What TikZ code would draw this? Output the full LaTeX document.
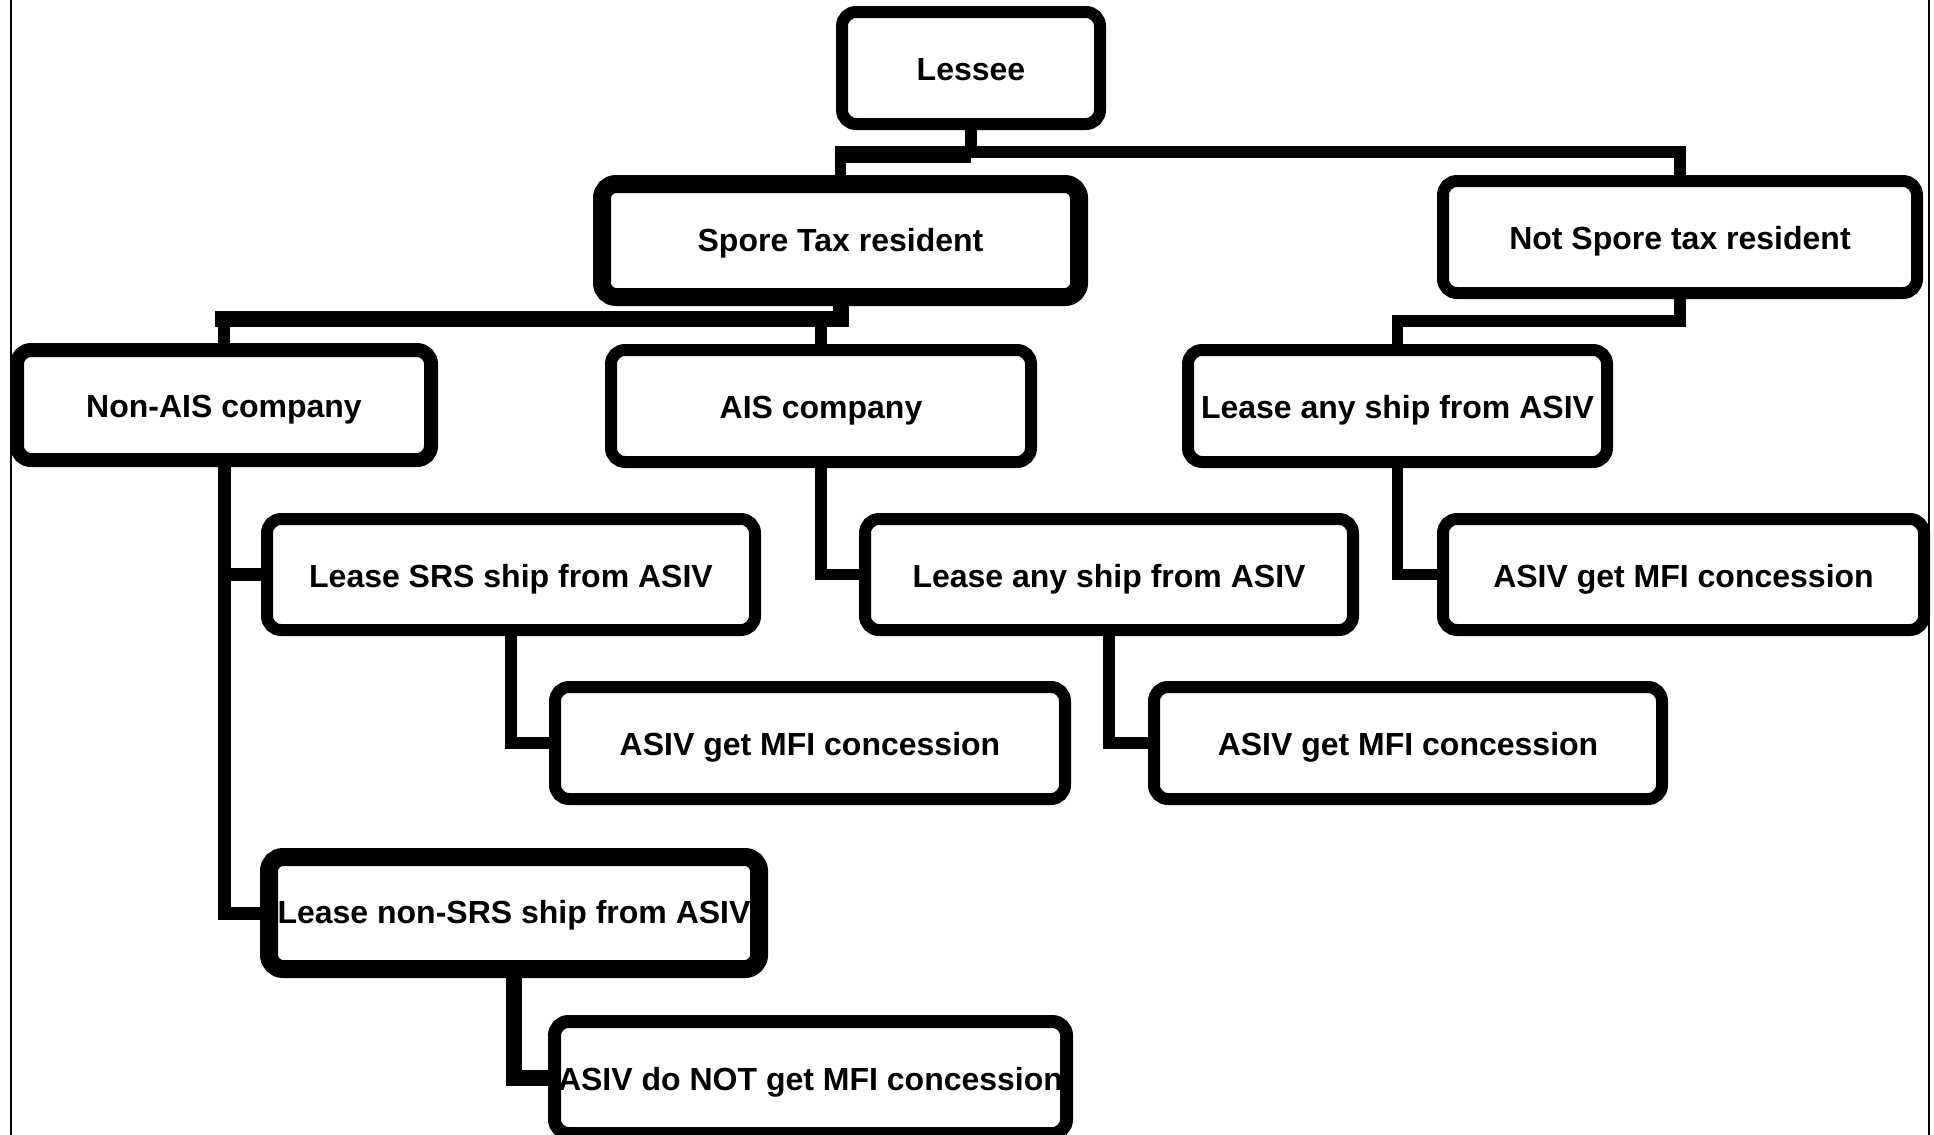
\documentclass[tikz,border=0pt]{standalone}
\usepackage{fontspec}
\setmainfont{Liberation Sans}
\begin{document}
\begin{tikzpicture}[x=0.5pt,y=-0.5pt,
  box/.style={draw=black, fill=white, rounded corners=7pt, line width=6pt,
    inner sep=0pt, text height=12.5pt, text depth=0pt,
    font=\fontsize{16}{19}\selectfont\bfseries},
  heavybox/.style={box, line width=9pt, text height=10.5pt},
  boxsize/.style 2 args={minimum width=#1pt, minimum height=#2pt},
  conn/.style={line width=5.75pt},
  heavyconn/.style={line width=8pt},
  frameline/.style={line width=1.25pt}]
\useasboundingbox (0,0) rectangle (1934,1135);
\clip (0,0) rectangle (1934,1135);

% page frame (left and right rules)
\draw[frameline] (11,0) -- (11,1135);
\draw[frameline] (1929,0) -- (1929,1135);

% boxes
\node[box, boxsize={129}{56}] (lessee) at (971,68) {Lessee};
\node[heavybox, boxsize={238.5}{56.5}] (spore) at (840.5,240.5) {Spore Tax resident};
\node[box, boxsize={237}{56}] (notspore) at (1680,237) {Not Spore tax resident};
\node[box, line width=7pt, boxsize={207}{55}] (nonais) at (224,405) {Non-AIS company};
\node[box, boxsize={210}{56}] (ais) at (821,406) {AIS company};
\node[box, boxsize={209.5}{56}] (leaser) at (1397.5,406) {Lease any ship from ASIV};
\node[box, boxsize={244}{55.5}] (leasesrs) at (511,574.5) {Lease SRS ship from ASIV};
\node[box, boxsize={244}{55.5}] (leasem) at (1109,574.5) {Lease any ship from ASIV};
\node[box, boxsize={240.5}{55.5}] (mfir) at (1683.5,574.5) {ASIV get MFI concession};
\node[box, boxsize={255}{56}] (mfil) at (810,743) {ASIV get MFI concession};
\node[box, boxsize={254}{56}] (mfim) at (1408,743) {ASIV get MFI concession};
\node[heavybox, boxsize={245}{56}] (leasenon) at (514,913) {Lease non-SRS ship from ASIV};
\node[box, line width=6.5pt, boxsize={256}{56}] (nomfi) at (810.5,1077.5) {ASIV do NOT get MFI concession};

% Lessee -> residency
\coordinate (bus1) at (971,152);
\coordinate (bus1b) at (971,157);
\draw[conn] (lessee.south) -- (bus1) -| (spore.north);
\draw[conn] (bus1b) -| (spore.north);
\draw[conn] (bus1) -| (notspore.north);

% Spore Tax resident -> company type
\coordinate (bus2) at (840.5,319);
\coordinate (bus2end) at (215,319);
\draw[heavyconn] (spore.south) -- (bus2) -- (bus2end);
\draw[conn] (bus2) -| (nonais.north);
\draw[conn] (bus2) -| (ais.north);

% Not Spore tax resident -> lease
\coordinate (bus3) at (1680,321);
\draw[conn] (notspore.south) -- (bus3) -| (leaser.north);

% Non-AIS company trunk
\draw[conn, line width=6.5pt] (nonais.south) |- (leasesrs.west);
\draw[conn, line width=6.5pt] (nonais.south) |- (leasenon.west);

% remaining branches
\draw[conn] (ais.south) |- (leasem.west);
\draw[conn] (leaser.south) |- (mfir.west);
\draw[conn] (leasesrs.south) |- (mfil.west);
\draw[conn] (leasem.south) |- (mfim.west);
\draw[heavyconn] (leasenon.south) |- (nomfi.west);
\end{tikzpicture}
\end{document}
